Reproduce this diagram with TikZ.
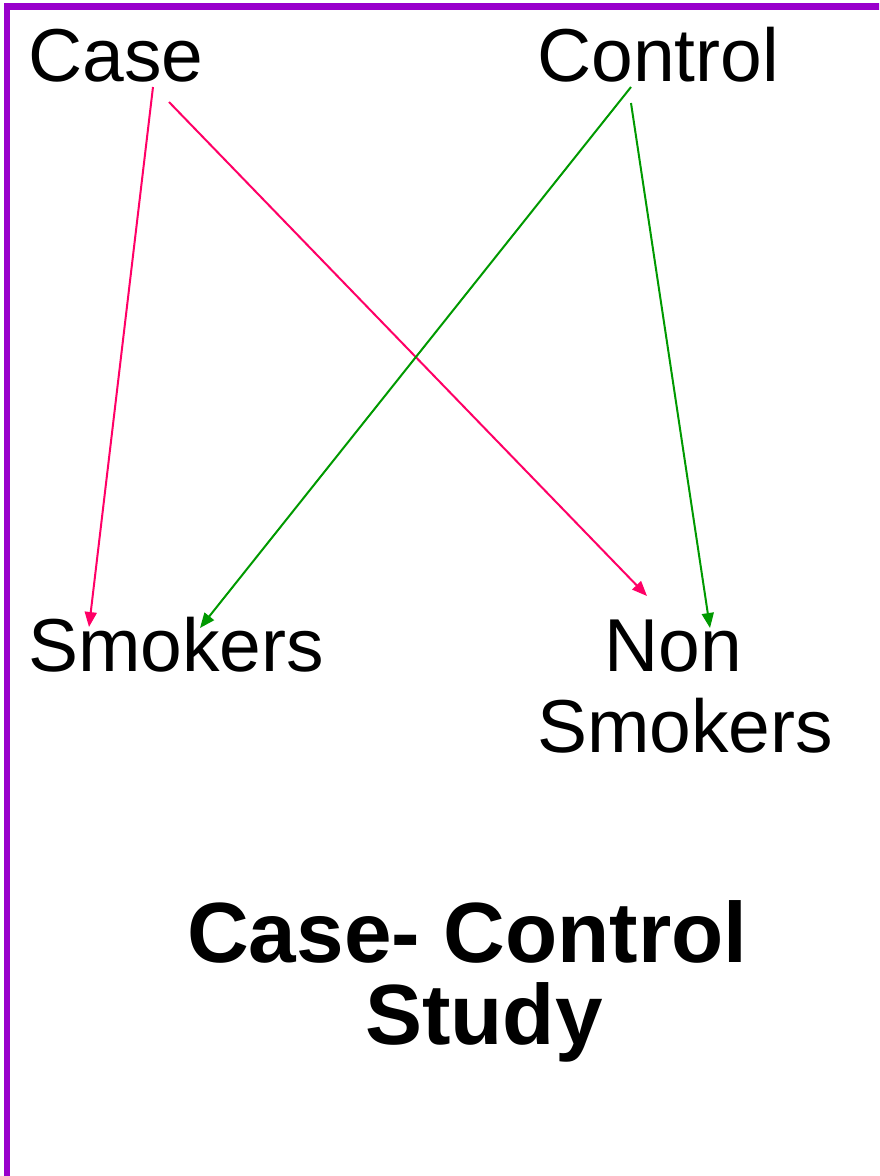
\documentclass[tikz,border=0pt]{standalone}
\usepackage{fontspec}
\setmainfont{Liberation Sans}
\usetikzlibrary{arrows.meta}
\definecolor{frame}{HTML}{9900CC}
\definecolor{casecol}{HTML}{FF0066}
\definecolor{ctrlcol}{HTML}{009900}
\tikzset{
  x=1pt, y=-1pt,
  lbl/.style={anchor=base west, inner sep=0pt, font=\fontsize{75}{80}\selectfont},
  ttl/.style={anchor=base west, inner sep=0pt, font=\fontsize{85.5}{90}\selectfont\bfseries},
  casearrow/.style={draw=casecol, line width=2pt, -{Triangle[length=15pt,width=12pt]}},
  ctrlarrow/.style={draw=ctrlcol, line width=2pt, -{Triangle[length=15pt,width=12pt]}},
}
\begin{document}
\begin{tikzpicture}
\useasboundingbox (0,0) rectangle (879,1176);
\begin{scope}
\clip (0,0) rectangle (879,1176);
\draw[frame, line width=6.5pt] (7,6.5) rectangle (890,1179);
\end{scope}
\node[lbl] (case) at (28,81) {Case};
\node[lbl] (control) at (537,81) {Control};
\node[lbl] (smokers) at (28,671) {Smokers};
\node[lbl] (non) at (604,671) {Non};
\node[lbl] (nonsmokers) at (537,752) {Smokers};
\node[ttl] (title1) at (187,962) {Case- Control};
\node[ttl] (title2) at (365,1044) {Study};
\coordinate (caseA) at (153,87);
\coordinate (caseB) at (169,102);
\coordinate (ctrlA) at (631,87);
\coordinate (ctrlB) at (631,103);
\coordinate (smkA) at (89,627);
\coordinate (smkB) at (200,628);
\coordinate (nonA) at (647,596);
\coordinate (nonB) at (710,628);
\draw[casearrow] (caseA) -- (smkA);
\draw[casearrow] (caseB) -- (nonA);
\draw[ctrlarrow] (ctrlA) -- (smkB);
\draw[ctrlarrow] (ctrlB) -- (nonB);
\end{tikzpicture}
\end{document}
